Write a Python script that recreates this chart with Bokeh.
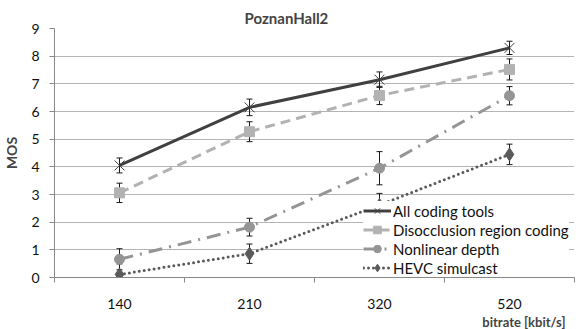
from bokeh.plotting import figure
from bokeh.models import (Range1d, FixedTicker, Whisker, TeeHead, ColumnDataSource,
                          Legend, LegendItem, Title)
from bokeh.embed import file_html
from bokeh.resources import INLINE

categories = ["140", "210", "320", "520"]
series_names = ["All coding tools", "Disocclusion region coding", "Nonlinear depth", "HEVC simulcast"]
all_tools = [4.05, 6.15, 7.15, 8.30]
all_tools_err = [0.27, 0.30, 0.28, 0.24]
disocclusion = [3.06, 5.27, 6.58, 7.52]
disocclusion_err = [0.35, 0.36, 0.33, 0.38]
nonlinear = [0.66, 1.82, 3.95, 6.57]
nonlinear_err = [0.38, 0.32, 0.60, 0.33]
hevc = [0.11, 0.86, 2.62, 4.45]
hevc_err = [0.38, 0.35, 0.42, 0.37]

FONT = "Lato"
xs = [i + 0.5 for i in range(len(categories))]

p = figure(width=576, height=329, x_range=Range1d(0, len(categories)), y_range=Range1d(0, 9),
           output_backend="svg", toolbar_location=None,
           min_border_left=54, min_border_right=2, min_border_top=28, min_border_bottom=52)
p.outline_line_color = None
p.background_fill_color = "white"

p.title.text = "PoznanHall2"
p.title.text_font = FONT
p.title.text_font_size = "15px"
p.title.text_font_style = "bold"
p.title.align = "left"
p.title.offset = 190
p.title.standoff = 4

# axes
xa = p.xaxis[0]
xa.ticker = FixedTicker(ticks=xs, minor_ticks=list(range(len(categories) + 1)))
xa.major_label_overrides = {x: c for x, c in zip(xs, categories)}
xa.major_tick_line_color = None
xa.major_tick_out = 0
xa.minor_tick_out = 5
xa.minor_tick_in = 0
xa.minor_tick_line_color = "#888888"
xa.axis_line_color = "#888888"
xa.major_label_text_font = FONT
xa.major_label_text_font_size = "14px"
xa.major_label_text_color = "#111111"
xa.major_label_standoff = 16

ya = p.yaxis[0]
ya.ticker = FixedTicker(ticks=list(range(0, 10)))
ya.minor_tick_line_color = None
ya.major_tick_out = 5
ya.major_tick_in = 0
ya.major_tick_line_color = "#888888"
ya.axis_line_color = "#888888"
ya.major_label_text_font = FONT
ya.major_label_text_font_size = "14px"
ya.major_label_text_color = "#111111"
ya.major_label_standoff = 10
ya.axis_label = "MOS"
ya.axis_label_text_font = FONT
ya.axis_label_text_font_size = "14px"
ya.axis_label_text_font_style = "bold"
ya.axis_label_standoff = 8

p.xgrid.grid_line_color = None
p.ygrid.grid_line_color = "#b4b4b4"
p.ygrid.grid_line_width = 1

xt = Title(text="bitrate [kbit/s]", align="right", offset=9, text_font=FONT,
           text_font_size="13px", text_font_style="bold", standoff=0)
p.add_layout(xt, "below")

specs = [
    (all_tools, all_tools_err, "#404040", "solid", "x", 14, "butt"),
    (disocclusion, disocclusion_err, "#b2b2b2", "10 6", "square", 10, "butt"),
    (nonlinear, nonlinear_err, "#959595", "14 7 2 7", "circle", 10, "butt"),
    (hevc, hevc_err, "#5a5a5a", "0 5", "diamond", 13, "round"),
]

items = []
for name, (vals, errs, color, dash, marker, size, cap) in zip(series_names, specs):
    src = ColumnDataSource(dict(x=xs, y=vals,
                                upper=[v + e for v, e in zip(vals, errs)],
                                lower=[v - e for v, e in zip(vals, errs)]))
    ln = p.line("x", "y", source=src, line_color=color, line_width=3, line_dash=dash, line_cap=cap)
    if marker == "x":
        sc = p.scatter("x", "y", source=src, marker="x", size=size, line_color=color, line_width=1)
    else:
        sc = p.scatter("x", "y", source=src, marker=marker, size=size, fill_color=color,
                       line_color=color)
    items.append(LegendItem(label=name, renderers=[ln, sc]))
    w = Whisker(source=src, base="x", upper="upper", lower="lower", line_color="#1a1a1a",
                line_width=1,
                upper_head=TeeHead(size=6, line_color="#1a1a1a", line_width=1),
                lower_head=TeeHead(size=6, line_color="#1a1a1a", line_width=1))
    p.add_layout(w)

legend = Legend(items=items, location=(309, 0), background_fill_color="white",
                background_fill_alpha=1, border_line_color=None, padding=1, margin=0,
                spacing=0, label_height=19, glyph_height=19, glyph_width=28,
                label_standoff=2, label_text_font=FONT, label_text_font_size="15px",
                label_text_color="#111111")
p.add_layout(legend)

open("out.html", "w").write(file_html(p, INLINE))
